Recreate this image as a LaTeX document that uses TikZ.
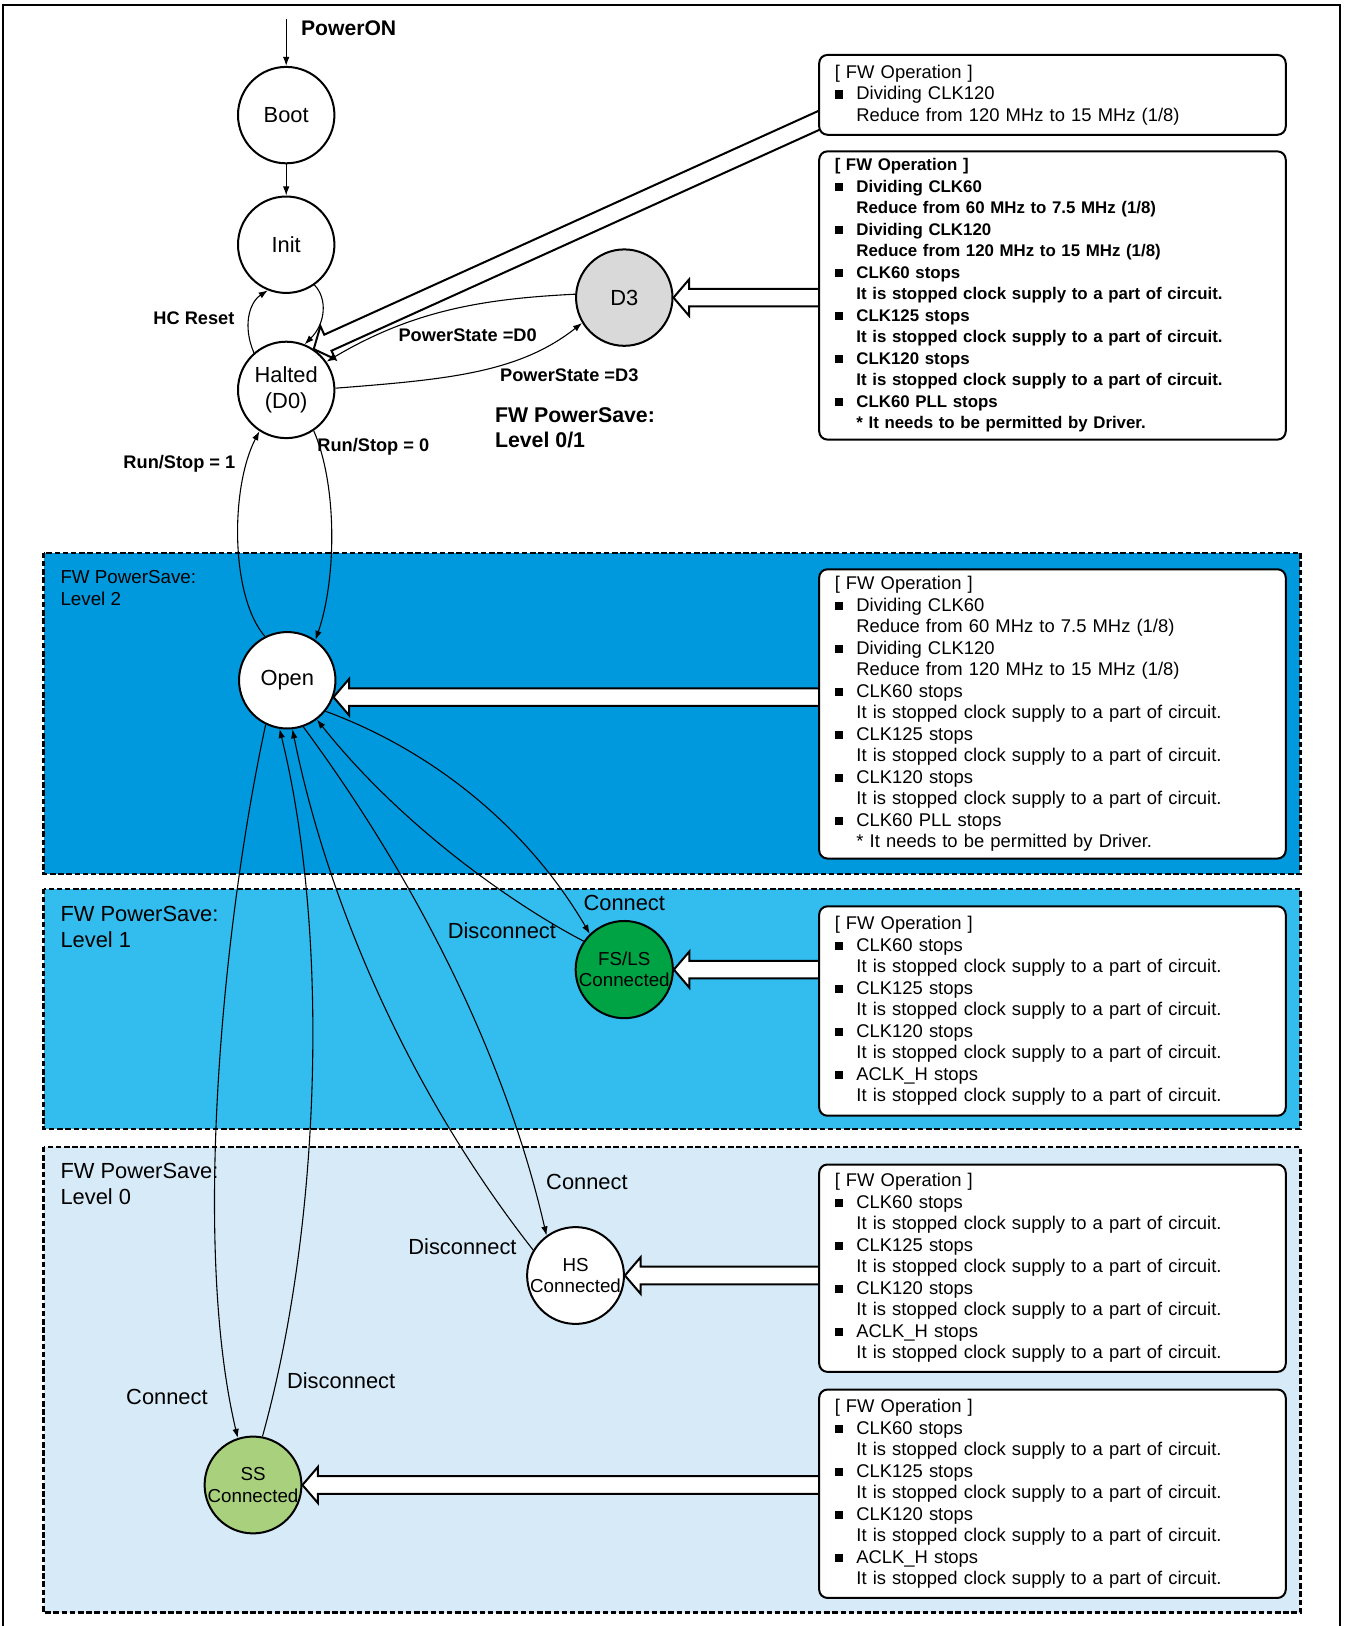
\documentclass[tikz,border=0pt]{standalone}
\usepackage{fontspec}
\setmainfont{Liberation Sans}
\usetikzlibrary{positioning, calc, arrows.meta, backgrounds}
\pgfdeclarelayer{hollow}
\pgfsetlayers{background,hollow,main}
\definecolor{PSlvTwo}{RGB}{0,153,221}
\definecolor{PSlvOne}{RGB}{51,188,238}
\definecolor{PSlvZero}{RGB}{214,235,247}
\definecolor{PSgreen}{RGB}{0,163,68}
\definecolor{PSlime}{RGB}{169,209,125}
\definecolor{PSgray}{RGB}{217,217,217}
\newcommand{\fwsq}{\makebox[11.9pt][l]{\rule[0.6pt]{4.5pt}{4.5pt}}}
\newcommand{\fwin}{\hspace*{11.9pt}}
\newcommand{\fwstop}{It is stopped clock supply to a part of circuit.}
% wide open arrow from an FW box (#2) to a state (#1)
\newcommand{\hollowarrow}[2]{%
    \begin{pgfonlayer}{hollow}
        \path #1 coordinate (ha-tip) #2 coordinate (ha-tail);
        \path ($(ha-tip)!0.3cm!(ha-tail)$) coordinate (ha-base);
        \filldraw[hollowline]
            ($(ha-tail)!0.17cm!90:(ha-tip)$) -- ($(ha-base)!0.17cm!90:(ha-tip)$)
            -- ($(ha-base)!0.35cm!90:(ha-tip)$) -- (ha-tip)
            -- ($(ha-base)!0.35cm!-90:(ha-tip)$) -- ($(ha-base)!0.17cm!-90:(ha-tip)$)
            -- ($(ha-tail)!0.17cm!-90:(ha-tip)$);
    \end{pgfonlayer}
}

\begin{document}
\begin{tikzpicture}[x=0.02cm, y=-0.02cm,
    state/.style={circle, draw, line width=1.1pt, minimum size=1.86cm,
                  inner sep=0pt, fill=white, align=center,
                  font=\fontsize{12}{14.2}\selectfont},
    conn/.style={font=\fontsize{10.3}{11.6}\selectfont},
    flow/.style={-{Latex[length=5pt,width=3.6pt]}, line width=0.6pt},
    hollowline/.style={draw=black, fill=white, line width=1.1pt, line join=miter},
    fwbox/.style={draw, line width=1.1pt, rounded corners=0.16cm, fill=white,
                  anchor=north west, minimum width=9cm, text width=8.4cm,
                  inner xsep=0.3cm, inner ysep=0pt, align=left,
                  font=\fontsize{10.1}{11.8}\selectfont},
    fwbold/.style={font=\bfseries\fontsize{9.25}{11.8}\selectfont},
    lvregion/.style={draw, line width=1.3pt, dash pattern=on 3pt off 1.5pt},
    lvlbl/.style={anchor=west, align=left, inner sep=0pt,
                  font=\fontsize{12}{14.2}\selectfont},
    lbl/.style={inner sep=0pt, font=\fontsize{12}{14.2}\selectfont},
    blbl/.style={inner sep=0pt, font=\bfseries\fontsize{10}{12}\selectfont},
]
\useasboundingbox (0,0) rectangle (1297,1568);

% --- frame and power save levels ---
\begin{scope}[on background layer]
    \draw[line width=1.1pt] (3,1600) -- (3,5) -- (1292,5) -- (1292,1600);
    \fill[PSlvTwo] (42,533) rectangle (1254,843);
    \draw[lvregion] (42,533) rectangle (1254,843);
    \fill[PSlvOne] (42,857) rectangle (1254,1089);
    \draw[lvregion] (42,857) rectangle (1254,1089);
    \fill[PSlvZero] (42,1106) rectangle (1254,1555);
    \draw[lvregion] (42,1106) rectangle (1254,1555);
\end{scope}

\node[lvlbl, font=\fontsize{10.3}{12.5}\selectfont] (lv2) at (58,567) {FW PowerSave:\\Level 2};
\node[lvlbl] (lv1) at (58,893.5) {FW PowerSave:\\Level 1};
\node[lvlbl] (lv0) at (58,1142) {FW PowerSave:\\Level 0};

% --- states ---
\node[state] (Boot) at (276,111) {Boot};
\node[state] (Init) at (276,236) {Init};
\node[state] (Halted) at (276,376) {Halted\\(D0)};
\node[state, fill=PSgray] (D3) at (602,287) {D3};
\node[state] (Open) at (277,656) {Open};
\node[state, conn, fill=PSgreen] (FSLS) at (602,935) {FS/LS\\Connected};
\node[state, conn] (HS) at (555,1230) {HS\\Connected};
\node[state, conn, fill=PSlime] (SS) at (244,1432) {SS\\Connected};
\coordinate (pwrIn) at (276,18);

% --- FW operation boxes ---
\node[fwbox, minimum height=1.54cm] (fw1) at (789,52)
    {[ FW Operation ]\\
     \fwsq Dividing CLK120\\
     \fwin Reduce from 120 MHz to 15 MHz (1/8)};
\node[fwbox, fwbold, minimum height=5.56cm] (fw2) at (789,145)
    {[ FW Operation ]\\
     \fwsq Dividing CLK60\\
     \fwin Reduce from 60 MHz to 7.5 MHz (1/8)\\
     \fwsq Dividing CLK120\\
     \fwin Reduce from 120 MHz to 15 MHz (1/8)\\
     \fwsq CLK60 stops\\ \fwin \fwstop\\
     \fwsq CLK125 stops\\ \fwin \fwstop\\
     \fwsq CLK120 stops\\ \fwin \fwstop\\
     \fwsq CLK60 PLL stops\\
     \fwin * It needs to be permitted by Driver.};
\node[fwbox, minimum height=5.58cm] (fw3) at (789,548)
    {[ FW Operation ]\\
     \fwsq Dividing CLK60\\
     \fwin Reduce from 60 MHz to 7.5 MHz (1/8)\\
     \fwsq Dividing CLK120\\
     \fwin Reduce from 120 MHz to 15 MHz (1/8)\\
     \fwsq CLK60 stops\\ \fwin \fwstop\\
     \fwsq CLK125 stops\\ \fwin \fwstop\\
     \fwsq CLK120 stops\\ \fwin \fwstop\\
     \fwsq CLK60 PLL stops\\
     \fwin * It needs to be permitted by Driver.};
\node[fwbox, minimum height=4.04cm] (fw4) at (789,873)
    {[ FW Operation ]\\
     \fwsq CLK60 stops\\ \fwin \fwstop\\
     \fwsq CLK125 stops\\ \fwin \fwstop\\
     \fwsq CLK120 stops\\ \fwin \fwstop\\
     \fwsq ACLK\_H stops\\ \fwin \fwstop};
\node[fwbox, minimum height=4.0cm] (fw5) at (789,1122)
    {[ FW Operation ]\\
     \fwsq CLK60 stops\\ \fwin \fwstop\\
     \fwsq CLK125 stops\\ \fwin \fwstop\\
     \fwsq CLK120 stops\\ \fwin \fwstop\\
     \fwsq ACLK\_H stops\\ \fwin \fwstop};
\node[fwbox, minimum height=4.02cm] (fw6) at (789,1339)
    {[ FW Operation ]\\
     \fwsq CLK60 stops\\ \fwin \fwstop\\
     \fwsq CLK125 stops\\ \fwin \fwstop\\
     \fwsq CLK120 stops\\ \fwin \fwstop\\
     \fwsq ACLK\_H stops\\ \fwin \fwstop};

% --- open arrows from the boxes ---
\hollowarrow{(Halted.56)}{($(fw1.west)+(12,19.5)$)}
\hollowarrow{(D3.east)}{(D3.east -| fw2.west)}
\hollowarrow{(Open.340)}{(Open.340 -| fw3.west)}
\hollowarrow{(FSLS.east)}{(FSLS.east -| fw4.west)}
\hollowarrow{(HS.east)}{(HS.east -| fw5.west)}
\hollowarrow{(SS.east)}{(SS.east -| fw6.west)}

% --- transitions ---
\draw[flow] (pwrIn) -- (Boot);
\draw[flow] (Boot) -- (Init);
\draw[flow] (Halted.131) .. controls (234,315) and (240,292) .. (Init.248);
\draw[flow] (Init.305) .. controls (316,288) and (314,312) .. (Halted.68);
\draw[flow] (Halted.2) .. controls (430,366) and (500,360) .. (D3.211);
\draw[flow] (D3.176) .. controls (470,288) and (400,298) .. (Halted.35);
\draw[flow] (Open.117) .. controls (222,575) and (222,470) .. (Halted.237);
\draw[flow] (Halted.304) .. controls (326,470) and (324,560) .. (Open.55);
\draw[flow] (Open.321) .. controls (420,725) and (510,800) .. (FSLS.134);
\draw[flow] (FSLS.145) .. controls (500,875) and (390,800) .. (Open.307);
\draw[flow] (Open.289) .. controls (410,860) and (490,1030) .. (HS.126);
\draw[flow] (HS.149) .. controls (400,1060) and (318,880) .. (Open.276);
\draw[flow] (Open.244) .. controls (215,890) and (185,1200) .. (SS.108);
\draw[flow] (SS.79) .. controls (310,1180) and (318,900) .. (Open.261);

% --- labels ---
\node[blbl, anchor=west, font=\bfseries\fontsize{11.6}{14}\selectfont] (lPower) at (290,27) {PowerON};
\node[blbl] (lReset) at (187,307) {HC Reset};
\node[blbl] (lD0) at (451,323) {PowerState =D0};
\node[blbl] (lD3) at (549,362) {PowerState =D3};
\node[blbl] (lRun1) at (173,447) {Run/Stop = 1};
\node[blbl] (lRun0) at (360,431) {Run/Stop = 0};
\node[blbl, anchor=west, align=left, font=\bfseries\fontsize{11.7}{14.2}\selectfont] (lLv01) at (477,412.5) {FW PowerSave:\\Level 0/1};
\node[lbl] (lConFS) at (602,871) {Connect};
\node[lbl] (lDisFS) at (484,897) {Disconnect};
\node[lbl] (lConHS) at (566,1140) {Connect};
\node[lbl] (lDisHS) at (446,1202) {Disconnect};
\node[lbl] (lConSS) at (161,1347) {Connect};
\node[lbl] (lDisSS) at (329,1331) {Disconnect};

\end{tikzpicture}
\end{document}
